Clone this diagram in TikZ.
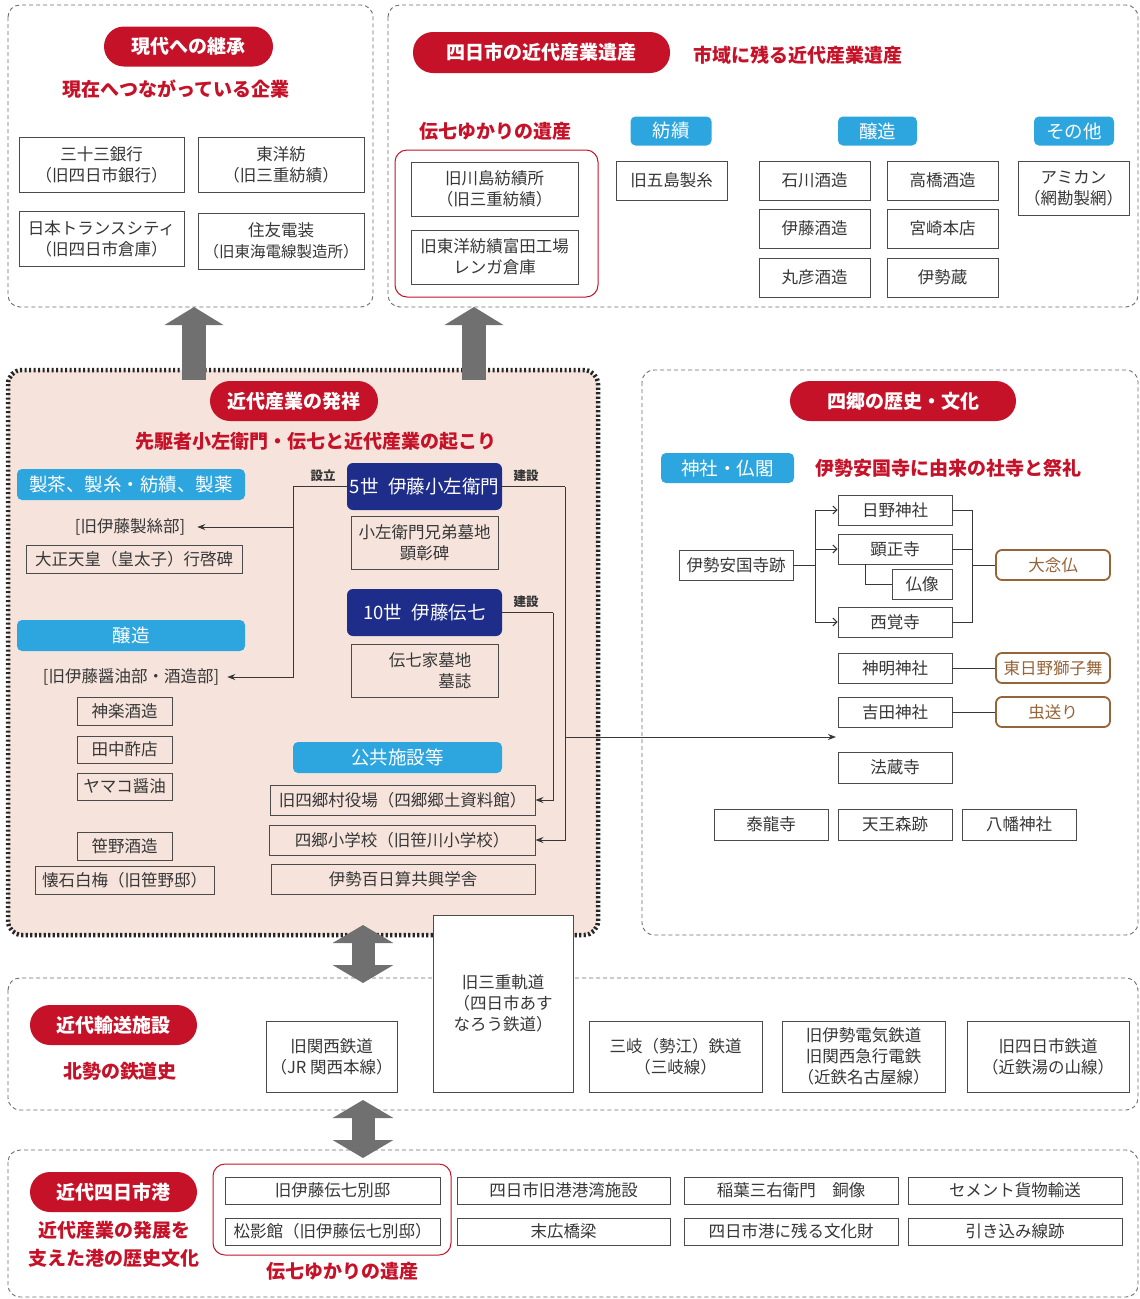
\documentclass[tikz,border=0pt]{standalone}
\usepackage{fontspec}
\setmainfont{Noto Sans CJK JP}
\usetikzlibrary{arrows.meta}
\definecolor{redc}{RGB}{198,18,40}
\definecolor{bluec}{RGB}{45,165,222}
\definecolor{navyc}{RGB}{30,45,138}
\definecolor{pinkc}{RGB}{246,228,220}
\definecolor{brownc}{RGB}{150,100,55}
\definecolor{boxc}{RGB}{75,75,75}
\definecolor{txtc}{RGB}{55,55,55}
\definecolor{grayc}{RGB}{112,112,112}
\definecolor{dashc}{RGB}{110,110,110}
\newcommand\bxf{\fontsize{16.5}{21}\selectfont}
\newcommand\ttlf{\bfseries\fontsize{19}{23}\selectfont}
\newcommand\tagf{\fontsize{18.5}{22}\selectfont}
\newcommand\lblf{\bfseries\fontsize{12.5}{14}\selectfont}
\tikzset{
  bx/.style={draw=boxc, line width=0.9pt, fill=white, inner sep=0pt, align=center, font=\bxf, text=txtc},
  pill/.style={fill=redc, rounded corners=20pt, text=white, font=\ttlf, inner sep=0pt, minimum height=40pt},
  tagbox/.style={fill=bluec, rounded corners=5pt, text=white, font=\tagf, inner sep=0pt, minimum height=30pt},
  navybox/.style={fill=navyc, rounded corners=6pt, text=white, font=\tagf, inner sep=0pt, minimum width=155pt, minimum height=47pt},
  rtitle/.style={text=redc, font=\ttlf, inner sep=0pt},
  plain/.style={text=txtc, font=\bxf, inner sep=2pt},
  lbl/.style={text=txtc, font=\lblf, inner sep=0pt},
  brn/.style={draw=brownc, line width=1.8pt, rounded corners=6pt, fill=white, text=brownc, font=\bxf, minimum width=114pt, minimum height=30pt, inner sep=0pt},
  dpanel/.style={draw=dashc, line width=0.9pt, dash pattern=on 4pt off 3pt, rounded corners=12pt},
  redframe/.style={draw=redc, line width=1pt, rounded corners=12pt},
  conn/.style={draw=txtc, line width=1pt},
  arr/.style={conn, -{Stealth[length=8pt,width=6pt]}},
  sarr/.style={conn, -{Straight Barb[length=4pt,width=8pt]}},
  bigarrow/.style={draw=grayc, line width=24pt, -{Triangle[length=18pt,width=58pt]}},
  bigdbl/.style={draw=grayc, line width=23pt, {Triangle[length=18pt,width=60pt]}-{Triangle[length=18pt,width=60pt]}},
}
\begin{document}
\begin{tikzpicture}[x=1pt,y=-1pt]
\fill[white] (0,0) rectangle (1140,1299);
\useasboundingbox (0,0) rectangle (1140,1299);

% ===== top-left panel =====
\draw[dpanel] (8,5) rectangle (373,307);
\node[pill, minimum width=169pt] (p1) at (188.5,46.5) {現代への継承};
\node[rtitle] (s1) at (176,89) {現在へつながっている企業};
\node[bx,minimum width=165pt,minimum height=55pt] (tl1) at (101.5,164.5) {三十三銀行\\（旧四日市銀行）};
\node[bx,minimum width=166pt,minimum height=55pt] (tl2) at (281,164.5) {東洋紡\\（旧三重紡績）};
\node[bx,minimum width=165pt,minimum height=55pt] (tl3) at (101.5,238.5) {日本トランスシティ\\（旧四日市倉庫）};
\node[bx,minimum width=166pt,minimum height=56pt] (tl4) at (281,241) {住友電装\\{\fontsize{15.5}{21}\selectfont（旧東海電線製造所）}};

% ===== top-right panel =====
\draw[dpanel] (388,5) rectangle (1138,307);
\node[pill, minimum width=257pt, minimum height=41pt] (p2) at (541.5,52.5) {四日市の近代産業遺産};
\node[rtitle] (s2) at (798,55) {市域に残る近代産業遺産};
\node[rtitle] (s3) at (495,131) {伝七ゆかりの遺産};
\draw[redframe] (395,150) rectangle (598,297);
\node[bx,minimum width=167pt,minimum height=54pt] (c1) at (494.5,189) {旧川島紡績所\\（旧三重紡績）};
\node[bx,minimum width=167pt,minimum height=54pt] (c2) at (494.5,257) {旧東洋紡績富田工場\\レンガ倉庫};
\node[tagbox,minimum width=81pt,minimum height=29pt] (t1) at (671,131) {紡績};
\node[tagbox,minimum width=79pt,minimum height=29pt] (t2) at (877.5,131) {醸造};
\node[tagbox,minimum width=80pt,minimum height=29pt] (t3) at (1074,131) {その他};
\node[bx,minimum width=111pt,minimum height=39pt] (c3) at (671.5,180.5) {旧五島製糸};
\node[bx,minimum width=111pt,minimum height=39pt] (c4) at (814.5,180.5) {石川酒造};
\node[bx,minimum width=111pt,minimum height=39pt] (c5) at (942.5,180.5) {高橋酒造};
\node[bx,minimum width=111pt,minimum height=39pt] (c6) at (814.5,228.5) {伊藤酒造};
\node[bx,minimum width=111pt,minimum height=39pt] (c7) at (942.5,228.5) {宮崎本店};
\node[bx,minimum width=111pt,minimum height=39pt] (c8) at (814.5,277.5) {丸彦酒造};
\node[bx,minimum width=111pt,minimum height=39pt] (c9) at (942.5,277.5) {伊勢蔵};
\node[bx,minimum width=111pt,minimum height=54pt] (c10) at (1073.5,188) {アミカン\\（網勘製網）};

% ===== centre panel =====
\draw[fill=pinkc, draw=black!85, line width=4.5pt, dash pattern=on 2.2pt off 2.3pt, rounded corners=14pt] (8,370) rectangle (598,935);
\draw[bigarrow] (194,380) -- (194,307);
\draw[bigarrow] (474,380) -- (474,307);
\node[pill, minimum width=168pt] (p3) at (294,401) {近代産業の発祥};
\node[rtitle] (s4) at (316,441) {先駆者小左衛門・伝七と近代産業の起こり};
\node[tagbox,minimum width=228pt,minimum height=31pt] (t4) at (131,484.5) {製茶、製糸・紡績、製薬};
\node[plain] (seishi) at (130,527) {[旧伊藤製絲部]};
\node[bx,minimum width=216pt,minimum height=28pt,fill=none] (taisho) at (134,559) {大正天皇（皇太子）行啓碑};
\node[tagbox,minimum width=228pt,minimum height=31pt] (t5) at (131,635.5) {醸造};
\node[plain] (shoyu) at (131,677) {[旧伊藤醤油部・酒造部]};
\node[bx,minimum width=95pt,minimum height=28pt,fill=none] (kagura) at (124.5,711) {神楽酒造};
\node[bx,minimum width=95pt,minimum height=27pt,fill=none] (tanaka) at (124.5,749.5) {田中酢店};
\node[bx,minimum width=95pt,minimum height=27pt,fill=none] (yamako) at (124.5,786.5) {ヤマコ醤油};
\node[bx,minimum width=95pt,minimum height=28pt,fill=none] (sasano) at (124.5,846) {笹野酒造};
\node[bx,minimum width=179pt,minimum height=28pt,fill=none] (kaiseki) at (124.5,880) {懐石白梅（旧笹野邸）};
\node[navybox] (k5) at (424.5,486.5) {5世\enspace 伊藤小左衛門};
\node[bx,minimum width=147pt,minimum height=53pt,fill=none] (bochi1) at (424.5,542.5) {小左衛門兄弟墓地\\顕彰碑};
\node[navybox] (k10) at (424.5,612.5) {10世\enspace 伊藤伝七};
\node[bx,minimum width=147pt,minimum height=53pt,fill=none] (bochi2) at (424.5,670.5) {};
\node[plain, align=right, inner sep=0pt] (bochi2t) at (430,670.5) {伝七家墓地\\墓誌};
\node[tagbox,minimum width=209pt,minimum height=31pt] (t6) at (397.5,757.5) {公共施設等};
\node[bx,minimum width=265pt,minimum height=30pt,fill=none] (yakuba) at (402.5,800) {旧四郷村役場（四郷郷土資料館）};
\node[bx,minimum width=266pt,minimum height=30pt,fill=none] (school) at (402,840) {四郷小学校（旧笹川小学校）};
\node[bx,minimum width=264pt,minimum height=30pt,fill=none] (kyoko) at (403,879) {伊勢百日算共興学舎};
% connectors
\coordinate (c5L) at (293,486.5);
\coordinate (c5R) at (565,486.5);
\coordinate (c10R) at (553,612.5);
\coordinate (c5M) at (565,737);
\coordinate (hzEnd) at (836,737);
\draw[conn] (k5.west) -- (c5L);
\draw[arr] (c5L) |- ([xshift=10pt]seishi.east);
\draw[arr] (c5L) |- ([xshift=6pt]shoyu.east);
\draw[conn] (k5.east) -- (c5R);
\draw[arr] (c5R) |- (school.east);
\draw[conn] (k10.east) -- (c10R);
\draw[arr] (c10R) |- (yakuba.east);
\draw[arr] (c5M) -- (hzEnd);
\node[lbl] (l1) at (323,476) {設立};
\node[lbl] (l2) at (526,476) {建設};
\node[lbl] (l3) at (526,602) {建設};

% ===== right panel =====
\draw[dpanel] (642,370) rectangle (1138,935);
\node[pill, minimum width=226pt] (p4) at (903,401) {四郷の歴史・文化};
\node[tagbox,minimum width=133pt,minimum height=30pt] (t7) at (727.5,468) {神社・仏閣};
\node[rtitle] (s5) at (948,468) {伊勢安国寺に由来の社寺と祭礼};
\node[bx,minimum width=114pt,minimum height=30pt] (ank) at (736,565) {伊勢安国寺跡};
\node[bx,minimum width=114pt,minimum height=30pt] (hino) at (895,510) {日野神社};
\node[bx,minimum width=114pt,minimum height=30pt] (kensho) at (895,549) {顕正寺};
\node[bx,minimum width=60pt,minimum height=30pt] (butsu) at (922,584) {仏像};
\node[bx,minimum width=114pt,minimum height=30pt] (saikaku) at (895,622) {西覚寺};
\node[bx,minimum width=114pt,minimum height=30pt] (shinmei) at (895,668) {神明神社};
\node[bx,minimum width=114pt,minimum height=30pt] (yoshida) at (895,712) {吉田神社};
\node[bx,minimum width=114pt,minimum height=31pt] (hozo) at (895,767.5) {法蔵寺};
\node[bx,minimum width=114pt,minimum height=31pt] (tairyu) at (771,824.5) {泰龍寺};
\node[bx,minimum width=114pt,minimum height=31pt] (tenno) at (895,824.5) {天王森跡};
\node[bx,minimum width=114pt,minimum height=31pt] (hachiman) at (1019,824.5) {八幡神社};
\node[brn] (dainen) at (1053,565) {大念仏};
\node[brn] (shishi) at (1053,668) {東日野獅子舞};
\node[brn] (mushi) at (1053,712) {虫送り};
\coordinate (jA) at (815,565);
\coordinate (jB) at (972,565);
\draw[conn] (ank.east) -- (jA);
\draw[sarr] (jA) |- (hino.west);
\draw[sarr] (jA) |- (kensho.west);
\draw[sarr] (jA) |- (saikaku.west);
\draw[conn] ([xshift=-30pt]kensho.south) |- (butsu.west);
\draw[conn] (hino.east) -| (jB);
\draw[conn] (saikaku.east) -| (jB);
\draw[conn] (kensho.east) -- (kensho.east -| jB);
\draw[conn] (jB) -- (dainen.west);
\draw[conn] (shinmei.east) -- (shishi.west);
\draw[conn] (yoshida.east) -- (mushi.west);

% ===== transport panel =====
\draw[dpanel] (8,978) rectangle (1138,1110);
\draw[bigdbl] (363,925) -- (363,983);
\node[pill, minimum width=167pt] (p5) at (113.5,1025) {近代輸送施設};
\node[rtitle] (s6) at (120,1071) {北勢の鉄道史};
\node[bx,minimum width=131pt,minimum height=71pt] (r1) at (331.5,1056.5) {旧関西鉄道\\（JR 関西本線）};
\node[bx,minimum width=140pt,minimum height=177pt] (r2) at (503,1003.5) {旧三重軌道\\（四日市あす\\なろう鉄道）};
\node[bx,minimum width=173pt,minimum height=71pt] (r3) at (675.5,1056.5) {三岐（勢江）鉄道\\（三岐線）};
\node[bx,minimum width=163pt,minimum height=71pt] (r4) at (863.5,1056.5) {旧伊勢電気鉄道\\旧関西急行電鉄\\（近鉄名古屋線）};
\node[bx,minimum width=162pt,minimum height=71pt] (r5) at (1048,1056.5) {旧四日市鉄道\\（近鉄湯の山線）};

% ===== port panel =====
\draw[dpanel] (8,1150) rectangle (1138,1297);
\draw[bigdbl] (363,1100) -- (363,1158);
\node[pill, minimum width=167pt] (p6) at (113.5,1192) {近代四日市港};
\node[rtitle] (s7) at (114,1230) {近代産業の発展を};
\node[rtitle] (s8) at (114,1258) {支えた港の歴史文化};
\draw[redframe] (213,1164) rectangle (451,1255);
\node[rtitle] (s9) at (342,1271) {伝七ゆかりの遺産};
\node[bx,minimum width=215pt,minimum height=27pt] (h1) at (332.5,1190.5) {旧伊藤伝七別邸};
\node[bx,minimum width=213pt,minimum height=27pt] (h2) at (563.5,1190.5) {四日市旧港港湾施設};
\node[bx,minimum width=214pt,minimum height=27pt] (h3) at (791,1190.5) {稲葉三右衛門　銅像};
\node[bx,minimum width=214pt,minimum height=27pt] (h4) at (1015,1190.5) {セメント貨物輸送};
\node[bx,minimum width=215pt,minimum height=27pt] (h5) at (332.5,1231.5) {松影館（旧伊藤伝七別邸）};
\node[bx,minimum width=213pt,minimum height=27pt] (h6) at (563.5,1231.5) {末広橋梁};
\node[bx,minimum width=214pt,minimum height=27pt] (h7) at (791,1231.5) {四日市港に残る文化財};
\node[bx,minimum width=214pt,minimum height=27pt] (h8) at (1015,1231.5) {引き込み線跡};
\end{tikzpicture}
\end{document}
